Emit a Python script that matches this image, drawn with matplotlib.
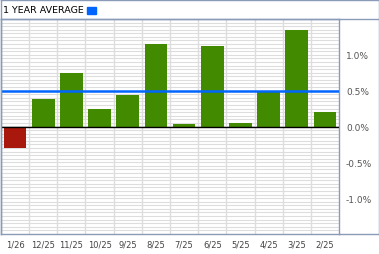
import matplotlib
matplotlib.use("Agg")
import matplotlib.pyplot as plt
from matplotlib.lines import Line2D
from matplotlib.patches import Rectangle
import numpy as np

# monthly values (%), newest first
months = ['1/26', '12/25', '11/25', '10/25', '9/25', '8/25',
          '7/25', '6/25', '5/25', '4/25', '3/25', '2/25']
values = [-0.30, 0.38, 0.75, 0.24, 0.44, 1.15,
          0.03, 1.12, 0.05, 0.49, 1.35, 0.20]
average = 0.50
ytick_vals = [1.0, 0.5, 0.0, -0.5, -1.0]
ytick_labels = ['1.0%', '0.5%', '0.0%', '-0.5%', '-1.0%']

W, H = 379, 255
border = '#8a9bb8'
green = '#428a00'
red = '#a8180c'
blue = '#0066ff'

fig = plt.figure(figsize=(W / 100, H / 100), dpi=100)
ax = fig.add_axes([1 / W, (H - 235) / H, 338 / W, 215 / H])

x = np.arange(len(months))
colors = [green if v >= 0 else red for v in values]
ax.bar(x, values, width=0.8, color=colors, zorder=3)

# grid: fine horizontal lines every 0.05%, vertical at month boundaries
for yv in np.arange(-1.5, 1.5001, 0.05):
    ax.axhline(yv, color='#dddddd', lw=0.8, zorder=1)
for xv in x[:-1] + 0.5:
    ax.axvline(xv, color='#dddddd', lw=1.0, zorder=1)

ax.axhline(0, color='black', lw=1.0, zorder=4)
ax.axhline(average, color=blue, lw=1.8, zorder=5)

ax.set_xlim(-0.5, len(months) - 0.5)
ax.set_ylim(-1.5, 1.5)
ax.set_xticks(x)
ax.set_xticklabels(months, fontsize=6, color='#444444')
ax.yaxis.tick_right()
ax.set_yticks(ytick_vals)
ax.set_yticklabels(ytick_labels, fontsize=6.5, color='#555555')
ax.tick_params(length=0, pad=5)
ax.tick_params(axis='x', pad=4)
for s in ax.spines.values():
    s.set_color(border)
    s.set_linewidth(1.0)

# outer frame and header
def fx(px):
    return px / W

def fy(py):
    return 1 - py / H

fig.add_artist(Line2D([fx(0.5), fx(378.5)], [fy(0.5), fy(0.5)], color=border, lw=1.0))
fig.add_artist(Line2D([fx(0.5), fx(378.5)], [fy(20), fy(20)], color=border, lw=1.0))
fig.add_artist(Line2D([fx(378.5), fx(378.5)], [fy(0.5), fy(235)], color=border, lw=1.0))
fig.add_artist(Line2D([fx(0.5), fx(0.5)], [fy(0.5), fy(235)], color=border, lw=1.0))
fig.add_artist(Line2D([fx(339), fx(378.5)], [fy(235), fy(235)], color=border, lw=1.0))

fig.text(fx(3), fy(10.5), '1 YEAR AVERAGE', fontsize=6.8, color='black',
         va='center', ha='left')
fig.add_artist(Rectangle((fx(87), fy(15)), 9 / W, 7.5 / H, color=blue,
                         transform=fig.transFigure))

fig.savefig('out.png', dpi=100)
